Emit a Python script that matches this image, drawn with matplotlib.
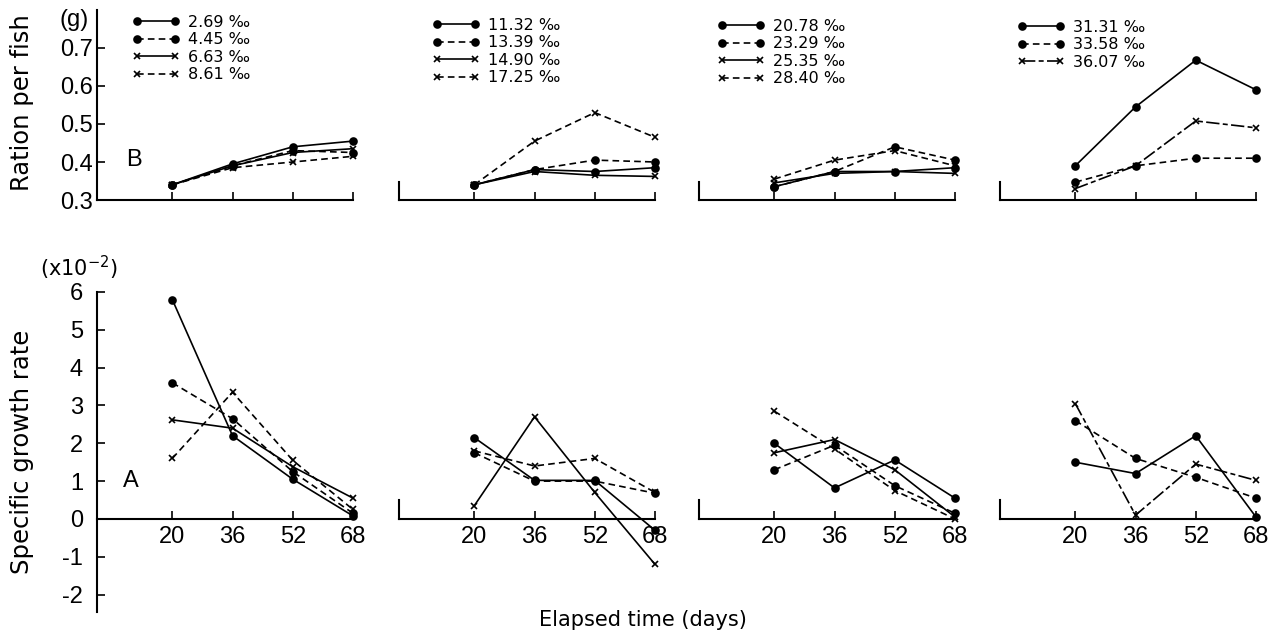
import matplotlib
matplotlib.use("Agg")
import matplotlib.pyplot as plt

W, H = 1278, 639
TICK_FONT = ['Liberation Sans', 'DejaVu Sans']
LAB_FONT = ['DejaVu Sans']

days = [20, 36, 52, 68]
day_ticks = [20, 36, 52, 68]

# salinity groups (per mille), one list per panel
salinity_labels = [
    ["2.69 ‰", "4.45 ‰", "6.63 ‰", "8.61 ‰"],
    ["11.32 ‰", "13.39 ‰", "14.90 ‰", "17.25 ‰"],
    ["20.78 ‰", "23.29 ‰", "25.35 ‰", "28.40 ‰"],
    ["31.31 ‰", "33.58 ‰", "36.07 ‰"],
]

# B: Ration per fish (g)
ration_p1 = [[0.34, 0.395, 0.44, 0.455],
             [0.34, 0.39, 0.43, 0.425],
             [0.34, 0.39, 0.425, 0.435],
             [0.34, 0.385, 0.40, 0.415]]
ration_p2 = [[0.34, 0.38, 0.375, 0.385],
             [0.34, 0.38, 0.405, 0.40],
             [0.34, 0.375, 0.365, 0.362],
             [0.34, 0.455, 0.53, 0.465]]
ration_p3 = [[0.335, 0.375, 0.375, 0.385],
             [0.335, 0.375, 0.44, 0.405],
             [0.345, 0.37, 0.375, 0.37],
             [0.355, 0.405, 0.43, 0.39]]
ration_p4 = [[0.39, 0.545, 0.668, 0.59],
             [0.347, 0.39, 0.41, 0.41],
             [0.33, 0.39, 0.508, 0.49]]
ration = [ration_p1, ration_p2, ration_p3, ration_p4]

# A: Specific growth rate (x10^-2)
sgr_p1 = [[5.8, 2.2, 1.05, 0.08],
          [3.6, 2.65, 1.25, 0.15],
          [2.62, 2.4, 1.38, 0.55],
          [1.6, 3.35, 1.55, 0.25]]
sgr_p2 = [[2.15, 1.02, 1.02, -0.3],
          [1.75, 1.0, 1.0, 0.68],
          [0.35, 2.7, 0.7, -1.2],
          [1.8, 1.4, 1.6, 0.7]]
sgr_p3 = [[2.0, 0.82, 1.56, 0.55],
          [1.3, 1.95, 0.88, 0.15],
          [1.75, 2.1, 1.3, 0.05],
          [2.85, 1.85, 0.75, 0.0]]
sgr_p4 = [[1.5, 1.2, 2.2, 0.05],
          [2.6, 1.6, 1.1, 0.55],
          [3.05, 0.1, 1.45, 1.02]]
sgr = [sgr_p1, sgr_p2, sgr_p3, sgr_p4]

dash = (0, (4, 2.5))
styles4 = [('-', 'o'), (dash, 'o'), ('-', 'x'), (dash, 'x')]
styles3 = [('-', 'o'), (dash, 'o'), ((0, (8, 2, 3, 2)), 'x')]

fig = plt.figure(figsize=(W / 100, H / 100), dpi=100)
fig.patch.set_facecolor('white')


def rect(x0, ytop, x1, ybot):
    return [x0 / W, 1 - ybot / H, (x1 - x0) / W, (ybot - ytop) / H]


panel_x = [(97, 353), (399, 655), (699, 955), (1000, 1256)]
legend_pos = [(132, 15), (432, 18), (717, 19), (1017, 20)]

for i, (x0, x1) in enumerate(panel_x):
    styles = styles4 if len(ration[i]) == 4 else styles3
    # ---------- top panel (B) ----------
    axt = fig.add_axes(rect(x0, 10, x1, 200))
    axt.set_xlim(0, 68)
    axt.set_ylim(0.3, 0.8)
    handles = []
    for series, (ls, mk) in zip(ration[i], styles):
        ln, = axt.plot(days, series, color='black', lw=1.2, linestyle=ls,
                       marker=mk, ms=5, mew=1.2, clip_on=False)
        handles.append(ln)
    for s in ['top', 'right']:
        axt.spines[s].set_visible(False)
    axt.spines['bottom'].set_linewidth(1.5)
    axt.spines['left'].set_linewidth(1.5)
    axt.set_xticks(day_ticks)
    axt.tick_params(axis='x', direction='in', length=6, width=1.2, labelbottom=False)
    if i == 0:
        axt.set_yticks([0.3, 0.4, 0.5, 0.6, 0.7])
        axt.set_yticklabels(['0.3', '0.4', '0.5', '0.6', '0.7'])
        axt.tick_params(axis='y', direction='in', length=6, width=1.2, pad=3)
        for t in axt.get_yticklabels():
            t.set_family(TICK_FONT)
            t.set_fontsize(17)
        axt.text(-0.09, 0.945, '(g)', transform=axt.transAxes, ha='center', va='center',
                 fontsize=17, family=TICK_FONT)
        axt.text(37 / 256, 0.21, 'B', transform=axt.transAxes, ha='center', va='center',
                 fontsize=17, family=TICK_FONT)
    else:
        axt.spines['left'].set_bounds(0.3, 0.347)
        axt.set_yticks([])
    lx, ly = legend_pos[i]
    axt.legend(handles, salinity_labels[i], numpoints=2, frameon=False,
               loc='upper left', bbox_to_anchor=(lx / W, 1 - ly / H),
               bbox_transform=fig.transFigure, borderpad=0, borderaxespad=0,
               handlelength=3.0, handletextpad=0.5, labelspacing=0.15,
               prop={'family': LAB_FONT, 'size': 11.5})

    # ---------- bottom panel (A) ----------
    axb = fig.add_axes(rect(x0, 292, x1, 612))
    axb.set_xlim(0, 68)
    axb.set_ylim(-2.46, 6.0)
    for series, (ls, mk) in zip(sgr[i], styles):
        axb.plot(days, series, color='black', lw=1.2, linestyle=ls,
                 marker=mk, ms=5, mew=1.2, clip_on=False)
    for s in ['top', 'right']:
        axb.spines[s].set_visible(False)
    axb.spines['bottom'].set_position(('data', 0))
    axb.spines['bottom'].set_linewidth(1.5)
    axb.spines['left'].set_linewidth(1.5)
    axb.set_xticks(day_ticks)
    axb.set_xticklabels([str(d) for d in day_ticks])
    axb.tick_params(axis='x', direction='in', length=6, width=1.2, pad=5)
    for t in axb.get_xticklabels():
        t.set_family(TICK_FONT)
        t.set_fontsize(17)
    if i == 0:
        axb.set_yticks(range(-2, 7))
        axb.set_yticklabels([str(v) for v in range(-2, 7)])
        axb.tick_params(axis='y', direction='in', length=6, width=1.2, pad=10)
        for t in axb.get_yticklabels():
            t.set_family(TICK_FONT)
            t.set_fontsize(17)
        axb.text(34 / 256, (1.0 + 2.46) / 8.46, 'A', transform=axb.transAxes,
                 ha='center', va='center', fontsize=17, family=TICK_FONT)
    else:
        axb.spines['left'].set_bounds(0, 0.5)
        axb.set_yticks([])

fig.text(22 / W, 1 - 103 / H, 'Ration per fish', rotation=90, ha='center', va='center',
         fontsize=17.5, family=LAB_FONT)
fig.text(22 / W, 1 - 452 / H, 'Specific growth rate', rotation=90, ha='center', va='center',
         fontsize=17.5, family=LAB_FONT)
fig.text(79 / W, 1 - 268 / H, '(x10$^{-2}$)', ha='center', va='center',
         fontsize=15, family=LAB_FONT)
fig.text(643 / W, 1 - 620 / H, 'Elapsed time (days)', ha='center', va='center',
         fontsize=15, family=LAB_FONT)

fig.savefig('out.png', dpi=100, facecolor='white')
